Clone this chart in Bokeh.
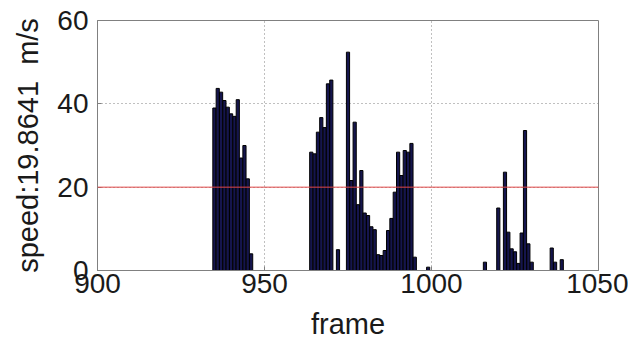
from bokeh.plotting import figure
from bokeh.models import Range1d, FixedTicker, Span
from bokeh.embed import file_html
from bokeh.resources import INLINE

# ---- data ----
frames = [935, 936, 937, 938, 939, 940, 941, 942, 943, 944, 945, 946,
          964, 965, 966, 967, 968, 969, 970, 972,
          975, 976, 977, 978, 979, 980, 981, 982, 983, 984, 985, 986, 987,
          988, 989, 990, 991, 992, 993, 994, 995, 999,
          1016, 1020, 1022, 1023, 1024, 1025, 1026, 1027, 1028, 1029, 1030,
          1036, 1037, 1039]
speeds = [39.0, 43.7, 42.8, 40.8, 39.2, 37.6, 37.0, 41.0, 27.0, 30.0, 22.0, 4.0,
          28.4, 28.0, 33.2, 36.7, 34.3, 44.8, 45.7, 5.0,
          52.4, 21.6, 35.6, 15.8, 24.0, 13.8, 13.2, 10.5, 9.8, 3.8, 3.6, 4.8, 9.6,
          12.5, 18.8, 28.4, 22.8, 28.8, 28.4, 30.5, 3.2, 0.8,
          2.0, 15.0, 23.6, 9.2, 5.2, 4.5, 1.7, 9.0, 33.6, 6.4, 2.0,
          5.4, 2.0, 2.6]
threshold = 20
x_ticks = [900, 950, 1000, 1050]
y_ticks = [0, 20, 40, 60]
x_label = "frame"
y_label = "speed:19.8641\u00a0 m/s"

FONT = "Liberation Sans"

p = figure(frame_width=501, frame_height=250,
           x_range=Range1d(900, 1050), y_range=Range1d(0, 60),
           output_backend="svg", toolbar_location=None,
           min_border_left=97, min_border_right=30,
           min_border_top=20, min_border_bottom=78)
p.background_fill_color = "white"
p.border_fill_color = "white"
p.outline_line_color = "#808080"
p.outline_line_width = 1

p.vbar(x=frames, top=speeds, bottom=0, width=0.95,
       fill_color="#15154d", line_color="black", line_width=1)

p.add_layout(Span(location=threshold, dimension="width",
                  line_color="#e04848", line_width=1))

p.xaxis.ticker = FixedTicker(ticks=x_ticks)
p.yaxis.ticker = FixedTicker(ticks=y_ticks)
for ax in (p.xaxis[0], p.yaxis[0]):
    ax.axis_line_color = "#808080"
    ax.major_tick_line_color = "#808080"
    ax.major_tick_in = 4
    ax.major_tick_out = 0
    ax.minor_tick_line_color = None
    ax.major_label_text_font = FONT
    ax.major_label_text_font_size = "28px"
    ax.major_label_text_color = "#1a1a1a"
    ax.axis_label_text_font = FONT
    ax.axis_label_text_font_size = "29px"
    ax.axis_label_text_font_style = "normal"
    ax.axis_label_text_color = "#1a1a1a"

p.xaxis.axis_label = x_label
p.yaxis.axis_label = y_label
p.xaxis.major_label_standoff = 3
p.yaxis.major_label_standoff = 9
p.xaxis.axis_label_standoff = 12
p.yaxis.axis_label_standoff = 10

p.xgrid.ticker = FixedTicker(ticks=x_ticks)
p.ygrid.ticker = FixedTicker(ticks=y_ticks)
p.grid.grid_line_color = "#808080"
p.grid.grid_line_dash = "1 3"
p.grid.grid_line_width = 1

open("out.html", "w").write(file_html(p, INLINE))
